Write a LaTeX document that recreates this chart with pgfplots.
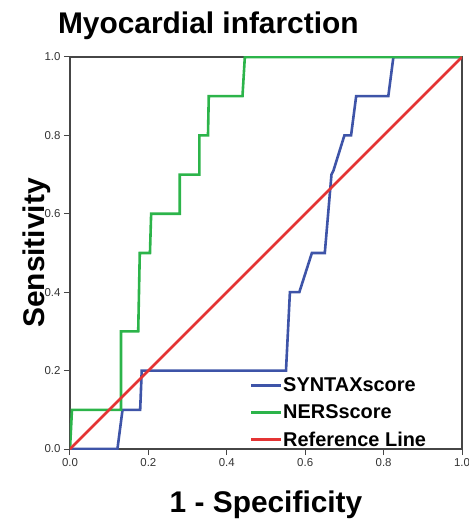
\documentclass[border=0pt]{standalone}
\usepackage{fontspec}
\setmainfont{Liberation Sans}
\usepackage{pgfplots}
\pgfplotsset{compat=1.18}
\definecolor{syntaxblue}{RGB}{62,84,168}
\definecolor{nersgreen}{RGB}{44,180,74}
\definecolor{refred}{RGB}{228,52,52}
\definecolor{axisgray}{RGB}{70,70,70}
\begin{document}
\begin{tikzpicture}
\useasboundingbox (-70bp,-72bp) rectangle (399bp,449bp);
\begin{axis}[
  scale only axis,
  width=392bp, height=392bp,
  xmin=0, xmax=1, ymin=0, ymax=1,
  xtick={0,0.2,...,1.0}, ytick={0,0.2,...,1.0},
  xticklabels={0.0,0.2,0.4,0.6,0.8,1.0},
  yticklabels={0.0,0.2,0.4,0.6,0.8,1.0},
  tick align=outside, xtick pos=left, ytick pos=left,
  major tick length=6bp,
  tick style={draw=axisgray, line width=1bp},
  axis line style={draw=axisgray, line width=1.5bp},
  tick label style={font=\fontsize{11.5}{13}\selectfont, text=black!80},
  /pgf/number format/assume math mode=true,
  title={Myocardial infarction},
  title style={at={(axis description cs:-0.031,1.045)}, anchor=base west, inner sep=0pt,
    font=\bfseries\fontsize{30}{36}\selectfont},
  xlabel={1 - Specificity},
  xlabel style={at={(axis description cs:0.5,-0.161)}, anchor=base, inner sep=0pt,
    font=\bfseries\fontsize{30}{36}\selectfont},
  ylabel={Sensitivity},
  ylabel style={at={(axis description cs:-0.064,0.5)}, anchor=base, inner sep=0pt,
    font=\bfseries\fontsize{30}{36}\selectfont},
  legend style={at={(axis cs:0.459,0.183)}, anchor=north west, draw=none, fill=none,
    font=\bfseries\fontsize{20}{22}\selectfont, inner sep=0pt, row sep=10.5bp,
    nodes={inner sep=0.5bp}},
  legend cell align=left,
  legend image code/.code={\draw[#1] (0bp,0bp) -- (30bp,0bp);},
]
\addplot[syntaxblue, line width=2.6bp] coordinates {
(0,0) (0.121,0) (0.134,0.1) (0.179,0.1) (0.183,0.2) (0.551,0.2) (0.561,0.4)
(0.585,0.4) (0.617,0.5) (0.65,0.5) (0.667,0.7) (0.672,0.71) (0.70,0.8) (0.717,0.8)
(0.73,0.9) (0.812,0.9) (0.825,1.0) (1,1)};
\addlegendentry{SYNTAXscore}
\addplot[nersgreen, line width=2.6bp] coordinates {
(0,0) (0.005,0.1) (0.13,0.1) (0.13,0.3) (0.174,0.3) (0.178,0.5) (0.204,0.5)
(0.207,0.6) (0.28,0.6) (0.28,0.7) (0.33,0.7) (0.33,0.8) (0.352,0.8) (0.354,0.9)
(0.44,0.9) (0.446,1.0) (1,1)};
\addlegendentry{NERSscore}
\addplot[refred, line width=2.6bp] coordinates {(0,0) (1,1)};
\addlegendentry{Reference Line}
\end{axis}
\end{tikzpicture}
\end{document}
